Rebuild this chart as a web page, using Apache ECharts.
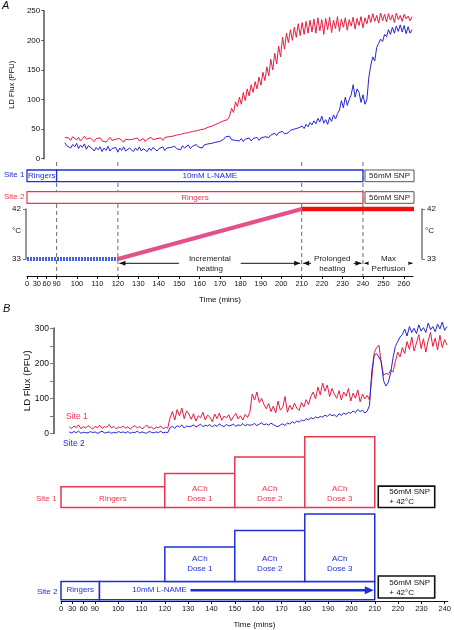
<!DOCTYPE html>
<html><head><meta charset="utf-8">
<script src="https://cdn.jsdelivr.net/npm/echarts@6/dist/echarts.min.js"></script>
<style>html,body{margin:0;padding:0;background:#fff}#c{width:454px;height:630px}</style>
</head><body><div id="c"></div>
<script>
// ================= DATA =================
// Broken time axis: 0–90 min is compressed into a short segment.
const AXIS_BREAK = 90;
const COMPRESSED_SPAN = 14.5;
function toAxis(t){ return t >= AXIS_BREAK ? t : AXIS_BREAK - (AXIS_BREAK - t) * COMPRESSED_SPAN / AXIS_BREAK; }

const tickTimesA = [0,30,60,90,100,110,120,130,140,150,160,170,180,190,200,210,220,230,240,250,260];
const tickTimesB = [0,30,60,90,100,110,120,130,140,150,160,170,180,190,200,210,220,230,240];
const fluxTicksA = [0,50,100,150,200,250];
const fluxTicksB = [0,100,200,300];

// Panel A traces, one sample per axis-minute starting at axis-minute 87
const traceA_start = 87;
const fluxA_site2 = [ // red, Ringers
 36,33,35,31,37,34,32,36,30,34,38,33,31,35,
 32,29,34,31,35,30,33,28,32,36,31,29,33,30,34,31,28,33,30,32,
 29,33,31,35,30,32,34,29,33,31,36,32,30,34,33,35,31,36,34,37,
 35,38,36,40,37,41,39,43,40,44,42,46,43,47,45,49,46,50,48,53,
 51,55,53,58,56,61,59,64,62,66,72,85,78,96,88,
 104,92,112,98,118,106,125,112,130,118,138,124,146,132,155,
 140,168,150,178,160,190,172,205,185,212,
 196,218,200,222,205,228,208,230,210,232,212,234,
 214,236,212,238,216,235,210,237,218,239,213,234,220,240,215,236,222,238,217,235,224,239,219,237,225,240,221,238,
 228,243,230,245,232,242,229,246,233,244,231,245,234,243,230,246,235,242,232,244,236,241,233,240];
const fluxA_site1 = [ // blue, L-NAME
 27,22,25,18,24,20,26,17,23,19,25,16,22,20,
 17,13,19,15,20,12,18,14,21,13,17,15,19,11,18,14,20,13,16,18,
 15,12,18,14,20,13,17,15,12,18,14,19,16,13,17,15,20,14,18,16,
 19,16,21,17,20,15,22,18,19,23,17,21,19,24,20,22,18,23,21,25,
 22,26,24,28,25,29,26,33,37,34,38,32,35,31,33,
 30,34,29,33,31,35,30,34,32,36,31,35,33,37,34,
 36,40,38,43,39,44,41,46,42,45,
 44,48,45,50,47,52,49,55,51,58,54,61,
 57,64,59,68,62,72,60,66,58,70,63,74,67,76,82,98,86,104,90,100,108,125,104,118,112,95,108,92,
 100,138,158,172,165,188,195,202,198,210,206,218,210,222,212,224,215,226,214,225,211,223,212,218];

// Panel B traces, one sample per axis-minute starting at axis-minute 79
const traceB_start = 79;
const fluxB_site1 = [ // red
 18,14,21,16,24,13,19,15,22,17,12,20,16,23,14,19,17,25,15,20,13,18,
 16,21,14,19,12,18,22,15,20,13,17,24,15,19,11,18,16,21,13,17,15,
 45,62,38,68,50,72,42,64,55,
 40,56,35,50,44,60,38,52,46,33,55,42,58,37,49,44,53,36,48,57,41,50,38,54,45,60,
 112,95,118,88,100,82,
 70,85,62,78,58,92,66,74,105,60,80,68,86,72,
 65,88,75,96,82,105,
 118,98,132,110,143,120,138,105,128,112,
 100,122,95,118,106,128,92,115,100,124,90,112,98,108,95,
 160,230,245,252,200,165,172,
 168,180,175,205,232,218,
 245,228,262,240,275,235,258,282,242,270,232,265,288,248,272,238,280,245,268,252];
const fluxB_site2 = [ // blue
 4,1,5,2,6,0,3,2,1,5,2,4,0,3,6,1,2,4,0,3,1,5,
 2,4,1,5,0,3,2,6,1,4,2,0,5,3,1,4,2,6,1,3,2,
 16,20,14,22,18,24,15,21,19,
 20,24,18,22,26,19,23,21,25,18,24,20,27,22,19,25,21,23,26,20,24,22,28,21,25,23,
 24,28,22,26,30,24,27,23,29,25,21,19,24,27,22,30,26,33,29,35,
 32,38,35,42,38,45,41,47,44,48,
 46,52,48,55,50,53,47,56,51,58,54,60,
 57,64,59,68,62,66,58,63,
 80,180,222,228,218,205,150,135,
 145,172,215,248,262,275,
 282,298,278,305,288,300,285,310,292,302,288,315,296,305,290,312,298,318,294,305];

// Panel A protocol (minutes)
const protoA_site1_start = [0, 90, 241];
const protoA_site1_end   = [90, 240, 265];
const protoA_site1_label = ['Ringers', '10mM L-NAME', '56mM SNP'];
const protoA_site2_start = [0, 241];
const protoA_site2_end   = [240, 265];
const protoA_site2_label = ['Ringers', '56mM SNP'];
const dashTimesA = [90, 120, 210, 240];
const phaseStartA = [120, 210, 240];
const phaseEndA   = [210, 240, 265];
const phaseLabelA = ['Incremental\nheating', 'Prolonged\nheating', 'Max\nPerfusion'];
const tempTimesA = [0, 120, 210, 265];
const tempValsA  = [33, 33, 42, 42];

// Panel B protocol (minutes)
const protoB_site1_start = [0, 120, 150, 180];
const protoB_site1_end   = [120, 150, 180, 210];
const protoB_site1_label = ['Ringers', 'ACh\nDose 1', 'ACh\nDose 2', 'ACh\nDose 3'];
const protoB_site2_start = [0, 92, 120, 150, 180];
const protoB_site2_end   = [92, 210, 150, 180, 210];
const protoB_site2_label = ['Ringers', '', 'ACh\nDose 1', 'ACh\nDose 2', 'ACh\nDose 3'];
const snpB_start = 211.5, snpB_end = 235.7;
const snpB_label = '56mM SNP\n+ 42°C';
const lnameB_label = '10mM L-NAME';
const lnameB_arrow = [131, 209.6];

// ================= LAYOUT / STYLE =================
const FONT = '"Liberation Sans", Arial, sans-serif';
const RED = '#e81c3e', BLUE = '#2626d4';
const BRED = '#e8384f', BBLUE = '#1f2fd6';
const A_MIN = 75.5, A_MAX = 264.5, B_MIN = 75.5, B_MAX = 241.3;
const LA = { row1:[94.3,106], row2:[72.7,84.3], dashTop:114, arrowV:12.7, textV:12 };
const LB = {
  s1Bottom:94.7, s1Tops:[115.7,129,145.7,166.3], s1TextV:[103,109,109,109],
  s2Bottom:[1.3,1.3,19.7,19.7,19.7], s2Tops:[19.7,19.7,54.7,71.3,88], s2TextV:[11,11,38,38,38],
  snp1:[94.7,116.3], snp1TextV:105.7, snp2:[3,25.3], snp2TextV:13.3,
  lnameTextT:106, lnameV:11
};

function fmtTick(list){ return v => { for (const t of list){ if (Math.abs(toAxis(t)-v) < 0.01) return String(t); } return ''; }; }

function boxSeries(xi, boxes, z){
  return { type:'custom', xAxisIndex:xi, yAxisIndex:xi, clip:false, silent:true, z:z||3,
    data: boxes.map(b => [b.x0, b.x1, b.y0, b.y1]),
    renderItem: (params, api) => {
      const b = boxes[params.dataIndex];
      const tl = api.coord([api.value(0), api.value(3)]);
      const br = api.coord([api.value(1), api.value(2)]);
      const ch = [{ type:'rect', shape:{ x:tl[0], y:tl[1], width:br[0]-tl[0], height:br[1]-tl[1] },
        style:{ fill:'#fff', stroke:b.stroke, lineWidth:b.lw } }];
      if (b.text){
        let p;
        if (b.talign === 'left') { p = api.coord([api.value(0), b.tv]); p[0] += b.dx; }
        else if (b.tt != null) { p = api.coord([b.tt, b.tv]); }
        else { p = api.coord([(api.value(0)+api.value(1))/2, b.tv]); }
        ch.push({ type:'text', x:p[0], y:p[1], style:{ text:b.text, fill:b.tcolor, font:(b.fs||8)+'px '+FONT,
          align:b.talign||'center', verticalAlign:'middle', lineHeight:b.lh||10 } });
      }
      return { type:'group', children:ch };
    } };
}

// build boxes
const boxesA = [];
protoA_site1_start.forEach((s,i)=>{
  const snp = protoA_site1_label[i].indexOf('SNP')>=0;
  boxesA.push({ x0:toAxis(s), x1:toAxis(protoA_site1_end[i]), y0:LA.row1[0], y1:LA.row1[1],
    stroke: snp?'#555':BBLUE, lw: snp?1:1.3, text:protoA_site1_label[i], tcolor: snp?'#222':BBLUE, tv:(LA.row1[0]+LA.row1[1])/2 });
});
protoA_site2_start.forEach((s,i)=>{
  const snp = protoA_site2_label[i].indexOf('SNP')>=0;
  boxesA.push({ x0:toAxis(s), x1:toAxis(protoA_site2_end[i]), y0:LA.row2[0], y1:LA.row2[1],
    stroke: snp?'#555':BRED, lw: snp?1:1.2, text:protoA_site2_label[i], tcolor: snp?'#222':BRED, tv:(LA.row2[0]+LA.row2[1])/2 });
});
const boxesB = [];
protoB_site1_start.forEach((s,i)=>{
  boxesB.push({ x0:toAxis(s), x1:toAxis(protoB_site1_end[i]), y0:LB.s1Bottom, y1:LB.s1Tops[i],
    stroke:BRED, lw:1.5, text:protoB_site1_label[i], tcolor:BRED, tv:LB.s1TextV[i] });
});
protoB_site2_start.forEach((s,i)=>{
  boxesB.push({ x0:toAxis(s), x1:toAxis(protoB_site2_end[i]), y0:LB.s2Bottom[i], y1:LB.s2Tops[i],
    stroke:BBLUE, lw:1.5, text:protoB_site2_label[i], tcolor:BBLUE, tv:LB.s2TextV[i] });
});
boxesB.push({ x0:snpB_start, x1:snpB_end, y0:LB.snp1[0], y1:LB.snp1[1], stroke:'#111', lw:1.6,
  text:snpB_label, tcolor:'#111', tv:LB.snp1TextV, talign:'left', dx:11, lh:9.5 });
boxesB.push({ x0:snpB_start, x1:snpB_end, y0:LB.snp2[0], y1:LB.snp2[1], stroke:'#111', lw:1.6,
  text:snpB_label, tcolor:'#111', tv:LB.snp2TextV, talign:'left', dx:11, lh:9.5 });

function trace(start, vals){ return vals.map((v,i)=>[start+i, v]); }

const tempStyles = [
  { color:'#4a5ee0', width:4, type:[2,1] },
  { color:'#e4508a', width:4, type:'solid' },
  { color:'#ee1111', width:4.5, type:'solid' }
];

const option = {
  animation:false,
  backgroundColor:'#fff',
  textStyle:{ fontFamily:FONT },
  grid:[
    { left:27, width:386, top:10.7, height:148 },   // 0 flux A
    { left:27, width:386, top:160, height:116 },    // 1 protocol A + time axis
    { left:27, width:386, top:209, height:50 },     // 2 temperature A
    { left:61, width:389, top:328.3, height:105 },  // 3 flux B
    { left:61, width:389, top:436, height:167 }     // 4 protocol B + time axis
  ],
  xAxis:[
    { gridIndex:0, type:'value', min:A_MIN, max:A_MAX, show:false },
    { gridIndex:1, type:'value', min:A_MIN, max:A_MAX, position:'bottom',
      axisLine:{ show:true, onZero:false, lineStyle:{ color:'#111', width:1 } },
      axisTick:{ show:true, length:3, customValues:tickTimesA.map(toAxis), lineStyle:{ color:'#111' } },
      axisLabel:{ customValues:tickTimesA.map(toAxis), formatter:fmtTick(tickTimesA), fontSize:7.5, margin:4, color:'#111' },
      splitLine:{ show:false },
      name:'Time (mins)', nameLocation:'middle', nameGap:20, nameTextStyle:{ fontSize:8, color:'#111' } },
    { gridIndex:2, type:'value', min:A_MIN, max:A_MAX, show:false },
    { gridIndex:3, type:'value', min:B_MIN, max:B_MAX, show:false },
    { gridIndex:4, type:'value', min:B_MIN, max:B_MAX, position:'bottom',
      axisLine:{ show:true, onZero:false, lineStyle:{ color:'#111', width:1 } },
      axisTick:{ show:true, length:3, customValues:tickTimesB.map(toAxis), lineStyle:{ color:'#111' } },
      axisLabel:{ customValues:tickTimesB.map(toAxis), formatter:fmtTick(tickTimesB), fontSize:7.5, margin:4, color:'#111' },
      splitLine:{ show:false },
      name:'Time (mins)', nameLocation:'middle', nameGap:20, nameTextStyle:{ fontSize:8, color:'#111' } }
  ],
  yAxis:[
    { gridIndex:0, type:'value', min:0, max:250, interval:50, offset:-2,
      axisLine:{ show:true, lineStyle:{ color:'#555', width:1.5 } },
      axisTick:{ show:true, length:3, customValues:fluxTicksA, lineStyle:{ color:'#555' } },
      axisLabel:{ customValues:fluxTicksA, fontSize:8, margin:4, color:'#111' }, splitLine:{ show:false },
      name:'LD Flux (PFU)', nameLocation:'middle', nameGap:16, nameRotate:90, nameTextStyle:{ fontSize:7.5, color:'#111' } },
    { gridIndex:1, type:'value', min:0, max:116, show:false },
    { gridIndex:2, type:'value', min:33, max:42, position:'left', offset:1,
      axisLine:{ show:true, lineStyle:{ color:'#777', width:1.5 } },
      axisTick:{ show:true, length:3, customValues:[33,42], lineStyle:{ color:'#777' } },
      axisLabel:{ customValues:[33,42], fontSize:8, margin:5, color:'#111' }, splitLine:{ show:false } },
    { gridIndex:3, type:'value', min:0, max:300, interval:50, offset:7,
      axisLine:{ show:true, lineStyle:{ color:'#777', width:2 } },
      axisTick:{ show:true, length:4, lineStyle:{ color:'#777' } },
      axisLabel:{ customValues:fluxTicksB, fontSize:8.5, margin:5, color:'#111' }, splitLine:{ show:false },
      name:'LD Flux (PFU)', nameLocation:'middle', nameGap:27, nameRotate:90, nameMoveOverlap:false,
      nameTextStyle:{ fontSize:9.5, color:'#111', verticalAlign:'middle' } },
    { gridIndex:4, type:'value', min:0, max:167, show:false },
    { gridIndex:2, type:'value', min:33, max:42, position:'right', offset:9,
      axisLine:{ show:true, lineStyle:{ color:'#777', width:1.5 } },
      axisTick:{ show:true, length:3, customValues:[33,42], lineStyle:{ color:'#777' } },
      axisLabel:{ customValues:[33,42], fontSize:8, margin:5, color:'#111' }, splitLine:{ show:false } }
  ],
  graphic:[
    { type:'text', left:2, top:0, style:{ text:'A', font:'italic 11px '+FONT, fill:'#111' } },
    { type:'text', left:3, top:303, style:{ text:'B', font:'italic 11px '+FONT, fill:'#111' } },
    { type:'text', left:4, top:171, style:{ text:'Site 1', font:'8px '+FONT, fill:BBLUE } },
    { type:'text', left:4, top:193, style:{ text:'Site 2', font:'8px '+FONT, fill:BRED } },
    { type:'text', left:12, top:227, style:{ text:'°C', font:'8px '+FONT, fill:'#111' } },
    { type:'text', left:425, top:227, style:{ text:'°C', font:'8px '+FONT, fill:'#111' } },
    { type:'text', left:66, top:412, style:{ text:'Site 1', font:'8.5px '+FONT, fill:BRED } },
    { type:'text', left:63, top:439, style:{ text:'Site 2', font:'8.5px '+FONT, fill:BBLUE } },
    { type:'text', left:36, top:495, style:{ text:'Site 1', font:'8px '+FONT, fill:BRED } },
    { type:'text', left:37, top:588, style:{ text:'Site 2', font:'8px '+FONT, fill:BBLUE } }
  ],
  series:[
    // dashed time markers (panel A)
    { type:'custom', xAxisIndex:1, yAxisIndex:1, clip:false, silent:true, z:1,
      data: dashTimesA.map(t=>[toAxis(t)]),
      renderItem:(params, api)=>{
        const p0 = api.coord([api.value(0), LA.dashTop]), p1 = api.coord([api.value(0), 0]);
        return { type:'line', shape:{ x1:p0[0], y1:p0[1], x2:p1[0], y2:p1[1] },
          style:{ stroke:'#444', lineWidth:0.8, lineDash:[4,3] } };
      } },
    boxSeries(1, boxesA, 3),
    // phase arrows (panel A)
    { type:'custom', xAxisIndex:1, yAxisIndex:1, clip:false, silent:true, z:4,
      data: phaseStartA.map((s,i)=>[toAxis(s), toAxis(phaseEndA[i])]),
      renderItem:(params, api)=>{
        const a = api.coord([api.value(0), LA.arrowV]), b = api.coord([api.value(1), LA.arrowV]);
        const x0 = a[0]+1.5, x1 = b[0]-1.5, y = a[1];
        const m = api.coord([(api.value(0)+api.value(1))/2, LA.textV]);
        const pad = params.dataIndex === 0 ? [0,10] : [0,3];
        return { type:'group', children:[
          { type:'line', shape:{ x1:x0, y1:y, x2:x1, y2:y }, style:{ stroke:'#111', lineWidth:1 } },
          { type:'polygon', shape:{ points:[[x0,y],[x0+6,y-2.5],[x0+6,y+2.5]] }, style:{ fill:'#111' } },
          { type:'polygon', shape:{ points:[[x1,y],[x1-6,y-2.5],[x1-6,y+2.5]] }, style:{ fill:'#111' } },
          { type:'text', x:m[0], y:m[1], style:{ text:phaseLabelA[params.dataIndex], font:'8px '+FONT, fill:'#222',
            align:'center', verticalAlign:'middle', lineHeight:10, backgroundColor:'#fff', padding:pad } }
        ] };
      } },
    // temperature segments
    ...[0,1,2].map(i => ({ type:'line', xAxisIndex:2, yAxisIndex:2, clip:false, silent:true, z:5,
      showSymbol:false, symbol:'none',
      data:[[toAxis(tempTimesA[i]), tempValsA[i]], [toAxis(tempTimesA[i+1]), tempValsA[i+1]]],
      lineStyle:{ color:tempStyles[i].color, width:tempStyles[i].width, type:tempStyles[i].type, cap:'butt' } })),
    // flux traces A
    { type:'line', xAxisIndex:0, yAxisIndex:0, showSymbol:false, symbol:'none', silent:true, z:6, clip:false,
      data:trace(traceA_start, fluxA_site1), lineStyle:{ color:BLUE, width:1 } },
    { type:'line', xAxisIndex:0, yAxisIndex:0, showSymbol:false, symbol:'none', silent:true, z:6, clip:false,
      data:trace(traceA_start, fluxA_site2), lineStyle:{ color:RED, width:1 } },
    // flux traces B
    { type:'line', xAxisIndex:3, yAxisIndex:3, showSymbol:false, symbol:'none', silent:true, z:6, clip:false,
      data:trace(traceB_start, fluxB_site1), lineStyle:{ color:RED, width:1 } },
    { type:'line', xAxisIndex:3, yAxisIndex:3, showSymbol:false, symbol:'none', silent:true, z:6, clip:false,
      data:trace(traceB_start, fluxB_site2), lineStyle:{ color:BLUE, width:1 } },
    // protocol boxes B
    boxSeries(4, boxesB, 3),
    // L-NAME label + arrow (panel B)
    { type:'custom', xAxisIndex:4, yAxisIndex:4, clip:false, silent:true, z:4,
      data:[[lnameB_arrow[0], lnameB_arrow[1]]],
      renderItem:(params, api)=>{
        const a = api.coord([api.value(0), LB.lnameV]), b = api.coord([api.value(1), LB.lnameV]);
        const t = api.coord([LB.lnameTextT, LB.lnameV]);
        const y = a[1];
        return { type:'group', children:[
          { type:'text', x:t[0], y:y, style:{ text:lnameB_label, font:'8px '+FONT, fill:BBLUE, align:'left', verticalAlign:'middle' } },
          { type:'line', shape:{ x1:a[0], y1:y, x2:b[0]-8, y2:y }, style:{ stroke:BBLUE, lineWidth:2.5 } },
          { type:'polygon', shape:{ points:[[b[0],y],[b[0]-9,y-4],[b[0]-9,y+4]] }, style:{ fill:BBLUE } }
        ] };
      } }
  ]
};

const chart = echarts.init(document.getElementById('c'), null, { renderer:'canvas', width:454, height:630 });
chart.setOption(option);
</script>
</body></html>
